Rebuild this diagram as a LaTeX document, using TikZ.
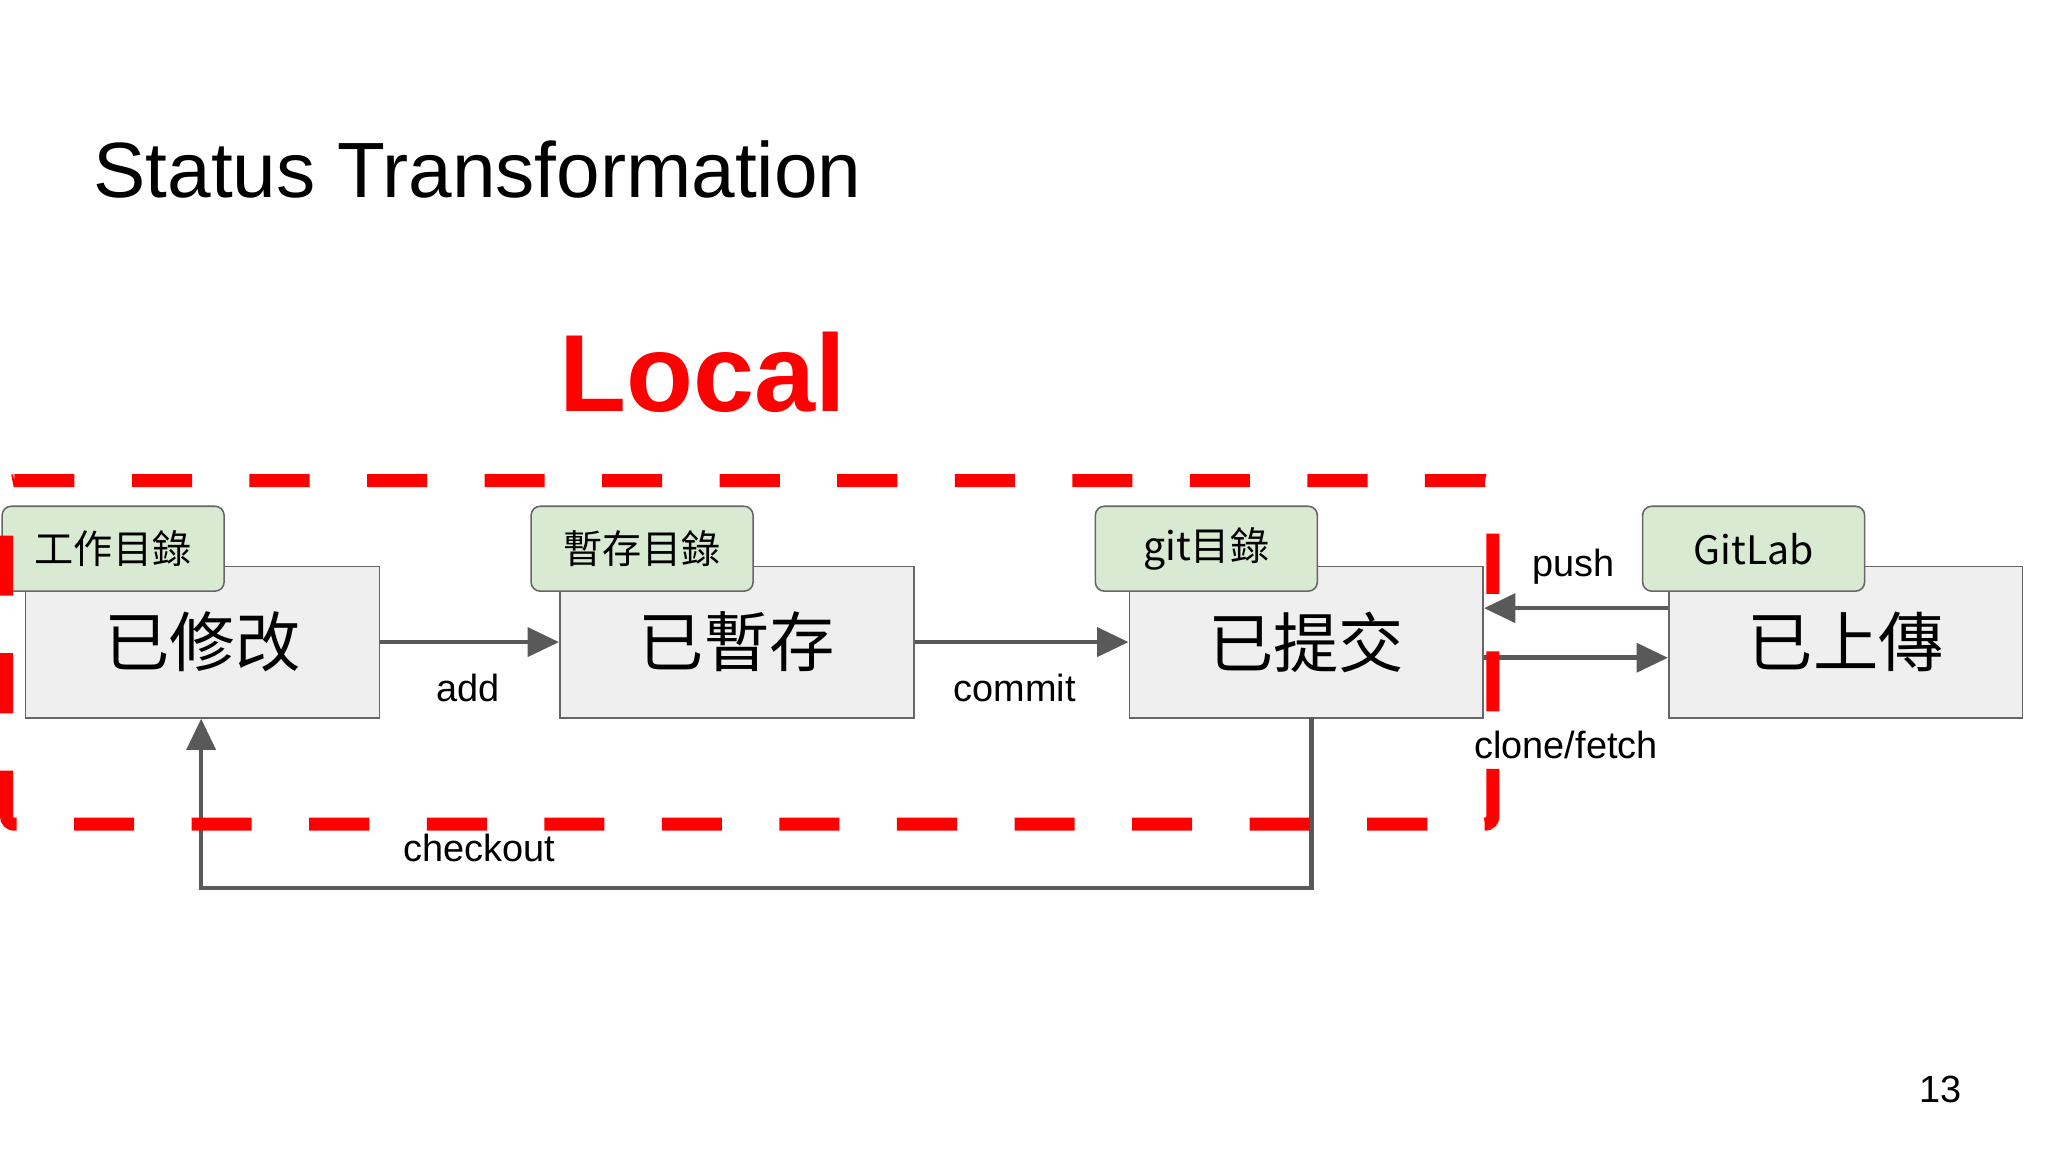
\documentclass[tikz,border=0pt]{standalone}
\usepackage{fontspec}
\setmainfont{Liberation Sans}
\newfontfamily\cjk{Noto Sans CJK TC}
\usetikzlibrary{arrows.meta}
\definecolor{boxgray}{HTML}{EFEFEF}
\definecolor{tagfill}{HTML}{D9EAD3}
\definecolor{arr}{HTML}{595959}
\begin{document}
\begin{tikzpicture}[x=1pt,y=-1pt,
  state/.style={draw=gray!80!black,fill=boxgray,line width=1.2pt,minimum width=271pt,minimum height=116pt,anchor=north west,inner sep=0pt,font=\cjk\fontsize{50}{50}\selectfont},
  tag/.style={draw=gray!80!black,fill=tagfill,line width=1.2pt,rounded corners=7pt,minimum width=170pt,minimum height=65pt,anchor=north west,inner sep=0pt,font=\cjk\fontsize{30}{30}\selectfont},
  conn/.style={draw=arr,line width=3.5pt,-{Triangle[length=24pt,width=22pt]}},
  lbl/.style={font=\fontsize{29}{29}\selectfont,text=black}]
\useasboundingbox (0,0) rectangle (1568,882);
\fill[white] (0,0) rectangle (1568,882);
\node[anchor=west,font=\fontsize{60}{60}\selectfont] (title) at (68,130) {Status Transformation};
\node[font=\bfseries\fontsize{84}{84}\selectfont,text=red] (local) at (538,285) {Local};
% states
\node[state] (s1) at (19,433) {已修改};
\node[state] (s2) at (428,433) {已暫存};
\node[state] (s3) at (864,433) {已提交};
\node[state] (s4) at (1277,433) {已上傳};
\node[tag] (t1) at (1,387) {工作目錄};
\node[tag] (t2) at (406,387) {暫存目錄};
\node[tag] (t3) at (838,387) {git目錄};
\node[tag] (t4) at (1257,387) {GitLab};
% arrows
\draw[conn] (s1.east) -- (s2.west);
\draw[conn] (s2.east) -- (s3.west);
\draw[conn] ([yshift=-12pt]s3.east) -- ([yshift=-12pt]s4.west);
\draw[conn] ([yshift=26pt]s4.west) -- ([yshift=26pt]s3.east);
\coordinate (c1) at (1004,680);
\coordinate (c2) at (154,680);
\draw[conn] (1004,549) -- (c1) -- (c2) -- (s1.south -| c2);
\node[lbl] (ladd) at (358,527) {add};
\node[lbl] (lcommit) at (777,527) {commit};
\node[lbl] (lpush) at (1205,434) {push};
\node[lbl] (lclone) at (1199,570) {clone/fetch};
\node[lbl] (lco) at (367,649) {checkout};
% dashed local frame
\draw[red,line width=10pt,dash pattern=on 46pt off 44pt,rounded corners=6pt] (5,368) -- (1143,368) -- (1143,631) -- (5,631) -- cycle;
\node[font=\fontsize{29}{29}\selectfont] (pg) at (1486,834) {13};
\end{tikzpicture}
\end{document}
